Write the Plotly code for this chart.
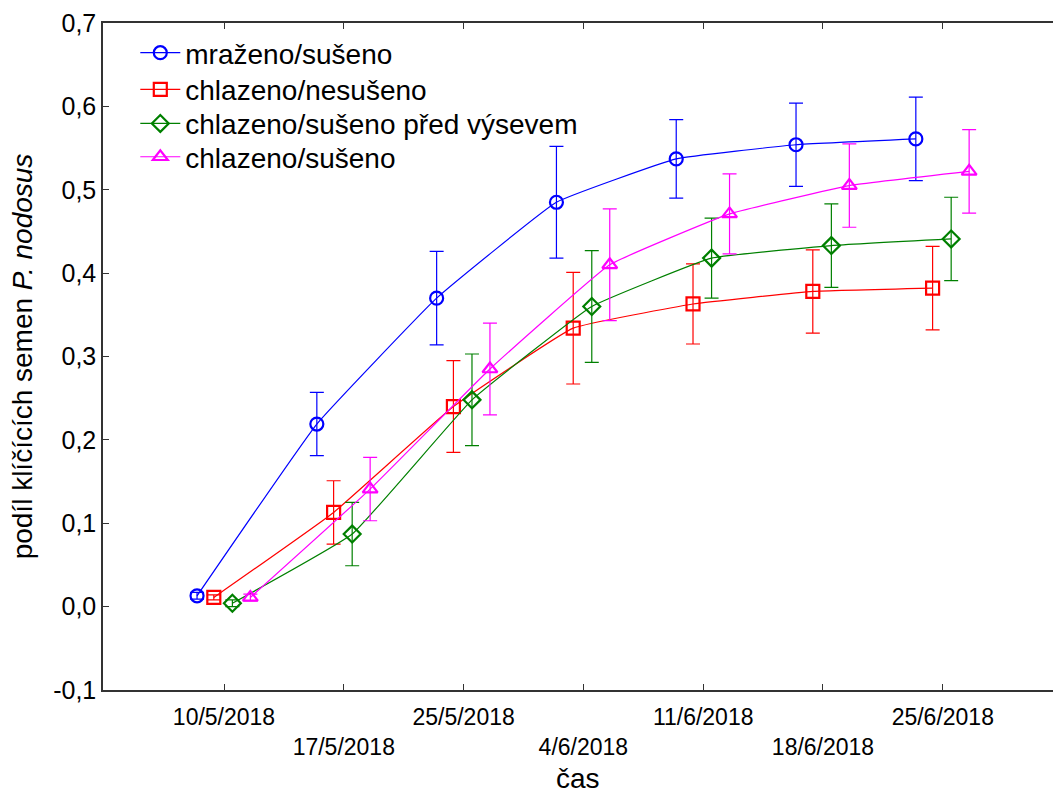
import plotly.graph_objects as go

dates = ["10/5/2018", "17/5/2018", "25/5/2018", "4/6/2018", "11/6/2018", "18/6/2018", "25/6/2018"]
tick_text = ["10/5/2018", "<br>17/5/2018", "25/5/2018", "<br>4/6/2018", "11/6/2018", "<br>18/6/2018", "25/6/2018"]

names = ["mraženo/sušeno", "chlazeno/nesušeno", "chlazeno/sušeno před výsevem", "chlazeno/sušeno"]

mrazeno_suseno = [0.013, 0.219, 0.370, 0.485, 0.537, 0.554, 0.561]
mrazeno_suseno_err = [0.004, 0.038, 0.056, 0.067, 0.047, 0.050, 0.050]

chlazeno_nesuseno = [0.011, 0.113, 0.240, 0.334, 0.363, 0.378, 0.382]
chlazeno_nesuseno_err = [0.003, 0.038, 0.055, 0.067, 0.048, 0.050, 0.050]

chlazeno_suseno_pred = [0.004, 0.087, 0.248, 0.360, 0.418, 0.433, 0.441]
chlazeno_suseno_pred_err = [0.004, 0.038, 0.055, 0.067, 0.048, 0.050, 0.050]

chlazeno_suseno = [0.011, 0.141, 0.285, 0.410, 0.471, 0.505, 0.522]
chlazeno_suseno_err = [0.004, 0.038, 0.055, 0.067, 0.048, 0.050, 0.050]

y_ticks = [-0.1, 0.0, 0.1, 0.2, 0.3, 0.4, 0.5, 0.6, 0.7]
y_tick_text = ["-0,1", "0,0", "0,1", "0,2", "0,3", "0,4", "0,5", "0,6", "0,7"]

x_title = "čas"
y_title = "podíl klíčících semen <i>P. nodosus</i>"

series = [mrazeno_suseno, chlazeno_nesuseno, chlazeno_suseno_pred, chlazeno_suseno]
errors = [mrazeno_suseno_err, chlazeno_nesuseno_err, chlazeno_suseno_pred_err, chlazeno_suseno_err]
colors = ["#0000ff", "#ff0000", "#008000", "#ff00ff"]
symbols = ["circle-open", "square-open", "diamond-open", "triangle-up-open"]
offsets = [-0.225, -0.085, 0.07, 0.22]
legend_ids = ["legend", "legend2", "legend3", "legend4"]
legend_y = [0.955, 0.900, 0.849, 0.799]

font = "Liberation Sans, Arial, sans-serif"

fig = go.Figure()
for name, vals, err, col, sym, off, lid in zip(names, series, errors, colors, symbols, offsets, legend_ids):
    xs = [i + off for i in range(len(dates))]
    fig.add_trace(go.Scatter(
        x=xs, y=vals, name=name, mode="lines+markers", legend=lid,
        line=dict(color=col, width=1.2, shape="spline", smoothing=0.3),
        marker=dict(symbol=sym, size=13, color=col, line=dict(color=col, width=2.2)),
        error_y=dict(type="data", array=err, visible=True, color=col, thickness=1.2, width=7),
    ))

legend_layout = {}
for lid, ly in zip(legend_ids, legend_y):
    legend_layout[lid] = dict(x=0.034, y=ly, xanchor="left", yanchor="middle",
                              font=dict(size=28, family=font), bgcolor="rgba(0,0,0,0)",
                              itemwidth=40)

fig.update_layout(
    width=1053, height=796,
    margin=dict(l=103, r=0, t=23, b=106),
    paper_bgcolor="white", plot_bgcolor="white",
    font=dict(family=font, size=23, color="black"),
    showlegend=True,
    xaxis=dict(range=[-1.01, 6.92], tickmode="array", tickvals=list(range(len(dates))),
               ticktext=tick_text, ticks="inside", ticklen=6, tickcolor="#333",
               ticklabelstandoff=6, automargin=False,
               showline=True, linecolor="#333", linewidth=1.5, mirror="ticks",
               showgrid=False, zeroline=False, tickfont=dict(size=23)),
    yaxis=dict(range=[-0.1, 0.7], tickmode="array", tickvals=y_ticks, ticktext=y_tick_text,
               ticks="inside", ticklen=6, tickcolor="#333", automargin=False,
               showline=True, linecolor="#333", linewidth=1.5,
               showgrid=False, zeroline=False, tickfont=dict(size=25),
               title=dict(text=y_title, font=dict(size=28), standoff=12)),
    annotations=[dict(text=x_title, xref="paper", yref="paper", x=0.5, y=-0.133,
                      xanchor="center", yanchor="middle", showarrow=False,
                      font=dict(size=28, family=font))],
    **legend_layout,
)

fig.write_html("out.html")
